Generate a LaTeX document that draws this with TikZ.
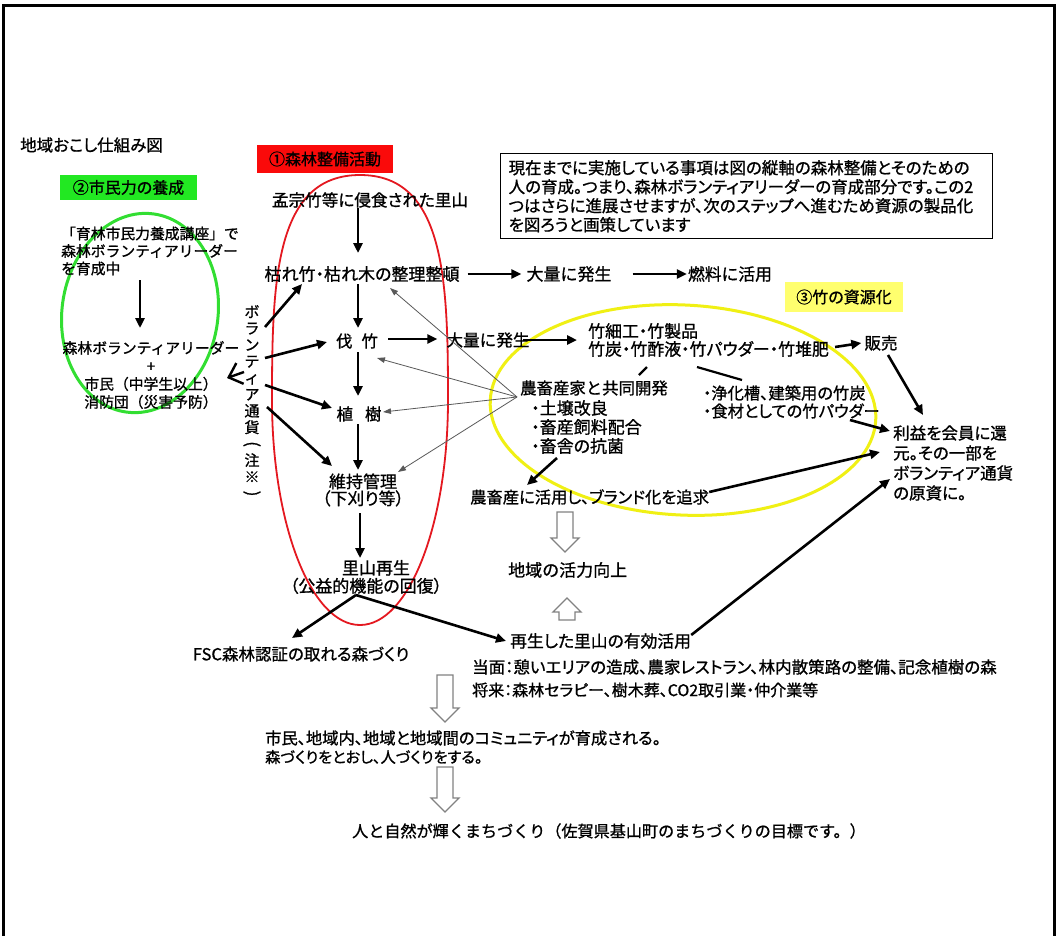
\documentclass[tikz,border=0pt]{standalone}
\usepackage{fontspec}
\usepackage{graphicx}
\newfontfamily\jq[FakeBold=1]{Noto Sans CJK JP}
\newfontfamily\jpp[RawFeature=+palt,FakeBold=1]{Noto Sans CJK JP}
\usetikzlibrary{arrows.meta}
\definecolor{lred}{RGB}{250,10,10}
\definecolor{ered}{RGB}{228,24,32}
\definecolor{lgreen}{RGB}{34,232,34}
\definecolor{egreen}{RGB}{50,222,50}
\definecolor{lyellow}{RGB}{255,255,110}
\definecolor{eyellow}{RGB}{240,240,20}
\definecolor{hgray}{RGB}{130,130,130}
% m = monospaced kana, p = proportional
\newcommand{\fm}[2]{\jq\fontsize{#1}{#2}\selectfont}
\newcommand{\fp}[2]{\jpp\fontsize{#1}{#2}\selectfont}
\newcommand{\vparo}{\rotatebox[origin=c]{-90}{(}}
\newcommand{\vparc}{\rotatebox[origin=c]{-90}{)}}
\tikzset{
  every node/.style={inner sep=0pt, font=\fp{16}{19}},
  lab/.style={inner sep=0pt, text=black},
  arr/.style={line width=2.6pt, -{Triangle[length=10pt,width=9pt]}},
  garr/.style={line width=0.8pt, draw=black!65, -{Triangle[length=8pt,width=5.5pt]}},
  plainline/.style={line width=2.2pt},
  barb/.style={line width=2.4pt, -{Straight Barb[length=12pt,width=22pt]}},
  hol/.style={draw=hgray, line width=1.3pt, fill=white},
  hdown/.pic={\path[hol] (-8,0) -- (-8,#1-14) -- (-14,#1-14) -- (0,#1) -- (14,#1-14) -- (8,#1-14) -- (8,0) -- cycle;}
}
\begin{document}
\begin{tikzpicture}[x=1pt,y=-1pt]
\useasboundingbox (0,0) rectangle (1058,935);
\fill[white] (0,0) rectangle (1058,935);
\draw[line width=3pt] (3.5,5.5) rectangle (1054.5,960);

% ellipses
\draw[ered, line width=1.8pt] (360,175) .. controls (445,175) and (448,280) .. (448,400)
  .. controls (448,524) and (409,625) .. (360,625)
  .. controls (311,625) and (272,524) .. (272,400)
  .. controls (272,280) and (275,175) .. cycle;
\draw[egreen, line width=3pt, rotate around={-8:(140,313)}] (140,313) ellipse [x radius=78pt, y radius=100pt];
\draw[eyellow, line width=3pt, rotate around={-3:(683,410)}] (683,410) ellipse [x radius=193pt, y radius=105pt];

% labels
\node[anchor=west, font=\fp{16.5}{19}] (title) at (20,145) {地域おこし仕組み図};
\node[lab, fill=lgreen, minimum width=137pt, minimum height=25pt] (lab2) at (128.5,187.5) {②市民力の養成};
\node[lab, fill=lred, minimum width=136pt, minimum height=28pt] (lab1) at (325,159) {①森林整備活動};
\node[lab, fill=lyellow, minimum width=118pt, minimum height=30pt] (lab3) at (844,297) {③竹の資源化};
\node[draw, line width=1.2pt, anchor=north west, align=left, text width=476pt, inner xsep=8pt, inner ysep=6.5pt, font=\fp{16.5}{19}] (note) at (500,153)
 {現在までに実施している事項は図の縦軸の森林整備とそのための\\人の育成。つまり、森林ボランティアリーダーの育成部分です。この2\\つはさらに進展させますが、次のステップへ進むため資源の製品化\\を図ろうと画策しています};

% green part
\node[anchor=west, align=left, font=\fm{14.8}{17.5}] (g1) at (61,251) {「育林市民力養成講座」で\\森林ボランティアリーダー\\を育成中};
\node[align=center, font=\fm{14.8}{18}] (g2) at (151,375) {森林ボランティアリーダー\\+\\市民（中学生以上）\\消防団（災害予防）};
\node[align=center, font=\fm{15}{16.5}] (vol) at (252,402) {ボ\\ラ\\ン\\テ\\ィ\\ア\\通\\貨\\{\fm{17}{16.5}\vparo}\\注\\※\\{\fm{17}{16.5}\vparc}};

% main column
\node[font=\fp{16.6}{19}] (mon) at (370,200) {孟宗竹等に侵食された里山};
\node[font=\fp{17}{19}] (kare) at (362,274) {枯れ竹・枯れ木の整理整頓};
\node[font=\fm{17}{19}] (tai1) at (569,274) {大量に発生};
\node[font=\fm{16.8}{19}] (nen) at (730,274) {燃料に活用};
\node[font=\fm{16.5}{19}] (bat) at (357,341) {伐\hspace{9pt}竹};
\node[font=\fm{16.6}{19}] (tai2) at (488,340) {大量に発生};
\node[anchor=west, align=left, font=\fp{16.9}{18}] (take) at (588,340) {竹細工・竹製品\\竹炭・竹酢液・竹パウダー・竹堆肥};
\node[font=\fm{16.5}{19}] (han) at (881,343) {販売};
\node[font=\fm{16.5}{19}] (shoku) at (359,414) {植\hspace{12pt}樹};
\node[align=center, font=\fp{17}{17}] (iji) at (363,490) {維持管理\\（下刈り等）};
\node[align=center, font=\fp{17}{18}] (sato) at (366,577) {\hspace{20pt}里山再生\\（公益的機能の回復）};
\node[font=\fp{16.5}{19}] (fsc) at (301,654) {FSC森林認証の取れる森づくり};

% right part
\node[anchor=west, font=\fm{16.4}{19}] (noti) at (520,388) {農畜産家と共同開発};
\node[anchor=west, align=left, font=\fp{17}{19}] (bul) at (531,427) {・土壌改良\\・畜産飼料配合\\・畜舎の抗菌};
\node[anchor=west, align=left, font=\fp{16.3}{18}] (jouka) at (703,402) {・浄化槽、建築用の竹炭\\・食材としての竹パウダー};
\node[anchor=west, font=\fp{16.3}{19}] (brand) at (470,497) {農畜産に活用し、ブランド化を追求};
\node[anchor=west, font=\fm{17}{19}] (kassei) at (508,570) {地域の活力向上};
\node[anchor=west, align=left, font=\fp{16.5}{20}] (rieki) at (893,463) {利益を会員に還\\元。その一部を\\ボランティア通貨\\の原資に。};
\node[anchor=west, font=\fp{16.8}{19}] (saisei) at (510,641) {再生した里山の有効活用};
\node[anchor=west, font=\fp{16.5}{19}] (tomen) at (472,667) {当面：憩いエリアの造成、農家レストラン、林内散策路の整備、記念植樹の森};
\node[anchor=west, font=\fp{16}{19}] (shorai) at (472,690) {将来：森林セラピー、樹木葬、CO2取引業・仲介業等};
\node[anchor=west, font=\fp{16.3}{19}] (comm1) at (265,738) {市民、地域内、地域と地域間のコミュニティが育成される。};
\node[anchor=west, font=\fp{15.2}{17}] (comm2) at (265,757) {森づくりをとおし、人づくりをする。};
\node[anchor=west, font=\fm{16.1}{19}] (goal) at (352,831) {人と自然が輝くまちづくり（佐賀県基山町のまちづくりの目標です。）};

% green arrow
\draw[arr] ([xshift=79pt,yshift=-29pt]g1.west) -- ([xshift=-11pt,yshift=47pt]g2.center);
\draw[barb] ([xshift=-8pt,yshift=30pt]vol.center) -- ([xshift=76pt,yshift=-3pt]g2.center);

% volunteer arrows
\draw[arr] ([xshift=13pt,yshift=75pt]vol.center) -- ([xshift=-60pt,yshift=-10pt]kare.center);
\draw[arr] ([xshift=13pt,yshift=44pt]vol.center) -- ([xshift=-30pt,yshift=-1pt]bat.center);
\draw[arr] ([xshift=13pt,yshift=17pt]vol.center) -- ([xshift=-27pt,yshift=6pt]shoku.center);
\draw[arr] ([xshift=15pt,yshift=-5pt]vol.center) -- ([xshift=-31pt,yshift=24pt]iji.center);

% main vertical arrows
\draw[arr] ([xshift=-12pt,yshift=-8pt]mon.center) -- ([xshift=-4pt,yshift=21pt]kare.center);
\draw[arr] ([xshift=-4pt,yshift=-10pt]kare.center) -- ([xshift=1pt,yshift=13pt]bat.center);
\draw[arr] ([xshift=1pt,yshift=-11pt]bat.center) -- ([xshift=-1pt,yshift=18pt]shoku.center);
\draw[arr] ([xshift=-1pt,yshift=-10pt]shoku.center) -- ([xshift=-5pt,yshift=20pt]iji.center);
\draw[arr] ([xshift=-3pt,yshift=-23pt]iji.center) -- ([xshift=-6pt,yshift=19pt]sato.center);
\draw[arr] ([xshift=-10pt,yshift=-18pt]sato.center) -- ([xshift=-9pt,yshift=16pt]fsc.center);
\draw[arr] ([xshift=-10pt,yshift=-18pt]sato.center) -- ([xshift=-4pt]saisei.west);

% horizontal arrows
\draw[arr] ([xshift=8pt]kare.east) -- ([xshift=-5pt]tai1.west);
\draw[arr] ([xshift=21pt]tai1.east) -- ([xshift=-1pt]nen.west);
\draw[arr] ([xshift=10pt,yshift=2pt]bat.east) -- ([xshift=-9pt,yshift=1pt]tai2.west);
\draw[arr] ([xshift=-7pt]tai2.east) -- ([xshift=-11pt]take.west);
\draw[arr] ([xshift=6pt,yshift=-7pt]take.east) -- ([xshift=-3pt]han.west);
\draw[arr] ([xshift=7pt,yshift=-12pt]han.center) -- ([xshift=30pt,yshift=48pt]rieki.west);
\draw[arr] ([xshift=147pt,yshift=-18pt]jouka.west) -- ([xshift=-3pt,yshift=32pt]rieki.west);
\draw[arr] ([yshift=5pt]brand.east) -- ([xshift=-13pt,yshift=11pt]rieki.west);
\draw[arr] ([yshift=6pt]saisei.east) -- ([xshift=-3pt,yshift=-16pt]rieki.west);
\draw[arr] ([xshift=26pt,yshift=-31pt]bul.west) -- ([xshift=57pt,yshift=12pt]brand.west);
\draw[plainline] ([xshift=59pt,yshift=-27pt]take.west) -- ([xshift=119pt,yshift=13pt]noti.west);
\draw[plainline] ([xshift=109pt,yshift=-27pt]take.west) -- ([xshift=39pt,yshift=22pt]jouka.west);

% thin grey arrows
\coordinate (apex) at ([xshift=-3pt,yshift=-9pt]noti.west);
\draw[garr] (apex) -- ([xshift=28pt,yshift=-14pt]kare.center);
\draw[garr] (apex) -- ([xshift=20pt,yshift=-17pt]bat.center);
\draw[garr] (apex) -- ([xshift=24pt,yshift=2pt]shoku.center);
\draw[garr] (apex) -- ([xshift=35pt,yshift=18pt]iji.center);

% hollow arrows
\pic at ([xshift=95pt,yshift=-15pt]brand.west) {hdown=40};
\pic[rotate=180] at ([xshift=59pt,yshift=-50pt]kassei.west) {hdown=22};
\pic at ([xshift=180pt,yshift=63pt]comm1.west) {hdown=47};
\pic at ([xshift=180pt,yshift=-29pt]comm1.west) {hdown=45};
\end{tikzpicture}
\end{document}
